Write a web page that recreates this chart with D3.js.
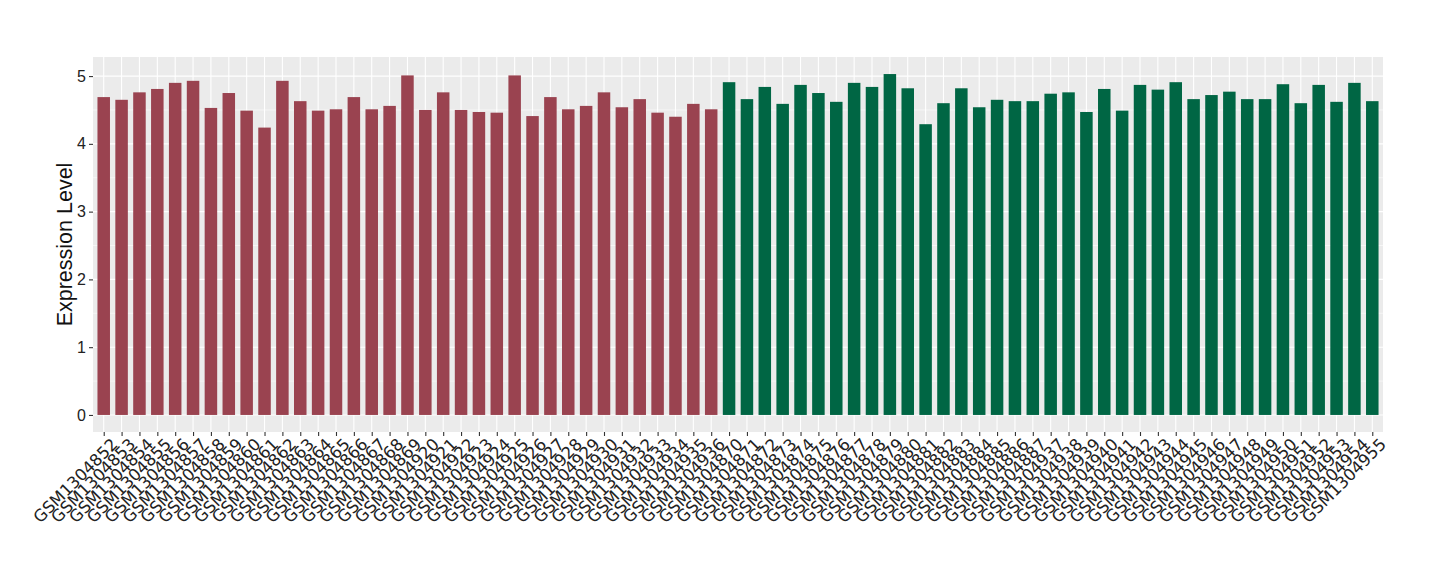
<!DOCTYPE html>
<html><head><meta charset="utf-8">
<script src="https://cdn.jsdelivr.net/npm/d3@7"></script>
<style>body{margin:0;background:#fff}svg{display:block}</style>
</head><body>
<script>
const categories = [
 "GSM1304852","GSM1304853","GSM1304854","GSM1304855","GSM1304856","GSM1304857","GSM1304858","GSM1304859","GSM1304860","GSM1304861","GSM1304862","GSM1304863","GSM1304864","GSM1304865","GSM1304866","GSM1304867","GSM1304868","GSM1304869",
 "GSM1304920","GSM1304921","GSM1304922","GSM1304923","GSM1304924","GSM1304925","GSM1304926","GSM1304927","GSM1304928","GSM1304929","GSM1304930","GSM1304931","GSM1304932","GSM1304933","GSM1304934","GSM1304935","GSM1304936",
 "GSM1304870","GSM1304871","GSM1304872","GSM1304873","GSM1304874","GSM1304875","GSM1304876","GSM1304877","GSM1304878","GSM1304879","GSM1304880","GSM1304881","GSM1304882","GSM1304883","GSM1304884","GSM1304885","GSM1304886","GSM1304887",
 "GSM1304937","GSM1304938","GSM1304939","GSM1304940","GSM1304941","GSM1304942","GSM1304943","GSM1304944","GSM1304945","GSM1304946","GSM1304947","GSM1304948","GSM1304949","GSM1304950","GSM1304951","GSM1304952","GSM1304953","GSM1304954","GSM1304955"
];
const values = [
 4.69,4.65,4.76,4.81,4.90,4.93,4.53,4.75,4.49,4.24,4.93,4.63,4.49,4.51,4.69,4.51,4.56,5.01,
 4.50,4.76,4.50,4.47,4.46,5.01,4.41,4.69,4.51,4.56,4.76,4.54,4.66,4.46,4.40,4.59,4.51,
 4.91,4.66,4.84,4.59,4.87,4.75,4.62,4.90,4.84,5.03,4.82,4.29,4.60,4.82,4.54,4.65,4.63,4.63,
 4.74,4.76,4.47,4.81,4.49,4.87,4.80,4.91,4.66,4.72,4.77,4.66,4.66,4.88,4.60,4.87,4.62,4.90,4.63
];
const groups = categories.map((c,i)=> i < 35 ? "A" : "B");
const groupColors = {A:"#9A4350", B:"#006644"};
const yTicks = [0,1,2,3,4,5];
const yMinor = [0.5,1.5,2.5,3.5,4.5];
const yTitle = "Expression Level";

const W = 1440, H = 580;
const panel = {left:93, right:1383, top:57, bottom:432};

const svg = d3.select("body").append("svg").attr("width",W).attr("height",H);

// ggplot discrete scale: 0.6 unit expansion on each side, bar width 0.7
const n = categories.length;
const step = (panel.right - panel.left)/(n - 1 + 1.2);
const xc = d3.scalePoint().domain(categories)
  .range([panel.left + 0.6*step, panel.right - 0.6*step]);
const bw = 0.7*step;

const vmax = d3.max(values);
const y = d3.scaleLinear().domain([-0.05*vmax, vmax*1.05]).range([panel.bottom, panel.top]);

svg.append("rect").attr("x",panel.left).attr("y",panel.top)
  .attr("width",panel.right-panel.left).attr("height",panel.bottom-panel.top).attr("fill","#EBEBEB");

const g = svg.append("g");
g.selectAll("line.minor").data(yMinor).join("line")
  .attr("x1",panel.left).attr("x2",panel.right)
  .attr("y1",d=>y(d)).attr("y2",d=>y(d))
  .attr("stroke","#fff").attr("stroke-width",0.55);
g.selectAll("line.majy").data(yTicks).join("line")
  .attr("x1",panel.left).attr("x2",panel.right)
  .attr("y1",d=>y(d)).attr("y2",d=>y(d))
  .attr("stroke","#fff").attr("stroke-width",1.1);
g.selectAll("line.majx").data(categories).join("line")
  .attr("x1",d=>xc(d)).attr("x2",d=>xc(d))
  .attr("y1",panel.top).attr("y2",panel.bottom)
  .attr("stroke","#fff").attr("stroke-width",1.1);

svg.selectAll("rect.bar").data(values).join("rect")
  .attr("x",(d,i)=>xc(categories[i]) - bw/2)
  .attr("width",bw)
  .attr("y",d=>y(d))
  .attr("height",d=>y(0)-y(d))
  .attr("fill",(d,i)=>groupColors[groups[i]]);

const yAxis = d3.axisLeft(y).tickValues(yTicks).tickSize(4).tickPadding(3).tickFormat(d3.format("d"));
const ya = svg.append("g").attr("transform",`translate(${panel.left},0)`).call(yAxis);
ya.select(".domain").remove();
ya.selectAll(".tick line").attr("stroke","#333").attr("stroke-width",1.1);
ya.selectAll(".tick text").style("font-family","'Liberation Sans', Arial, sans-serif").style("font-size","16px").attr("fill","#222");

const xAxis = d3.axisBottom(xc).tickSize(4).tickPadding(2);
const xa = svg.append("g").attr("transform",`translate(0,${panel.bottom})`).call(xAxis);
xa.select(".domain").remove();
xa.selectAll(".tick line").attr("stroke","#333").attr("stroke-width",1.1);
xa.selectAll(".tick text")
  .style("font-family","'DejaVu Sans', sans-serif").style("font-size","16.5px").attr("fill","#222")
  .attr("text-anchor","end")
  .attr("transform","translate(6,5) rotate(-45)")
  .attr("x",0).attr("y",0).attr("dy","0.72em");

svg.append("text")
  .attr("transform",`translate(72,${(panel.top+panel.bottom)/2}) rotate(-90)`)
  .attr("text-anchor","middle")
  .style("font-family","'Liberation Sans', Arial, sans-serif").style("font-size","21.5px").attr("fill","#111")
  .text(yTitle);
</script>
</body></html>
